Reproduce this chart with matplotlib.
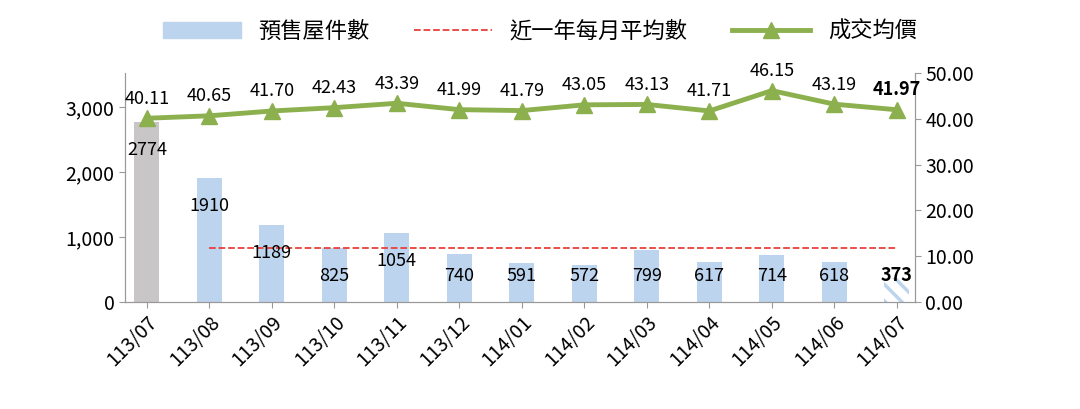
import matplotlib
matplotlib.use("Agg")
import matplotlib.pyplot as plt
import numpy as np

plt.rcParams['font.family'] = ['Noto Sans CJK TC', 'DejaVu Sans']
plt.rcParams['hatch.linewidth'] = 2.5

months = ["113/07","113/08","113/09","113/10","113/11","113/12","114/01","114/02","114/03","114/04","114/05","114/06","114/07"]
units = [2774,1910,1189,825,1054,740,591,572,799,617,714,618,373]
prices = [40.11,40.65,41.70,42.43,43.39,41.99,41.79,43.05,43.13,41.71,46.15,43.19,41.97]
avg_units = 834

fig = plt.figure(figsize=(10.8,4.09), dpi=100)
ax = fig.add_axes([0.1157,0.262,0.7315,0.5595])
ax2 = ax.twinx()
x = np.arange(len(months))
colors = ['#c8c6c6'] + ['#bdd4ee']*(len(months)-2) + ['white']
bars = ax.bar(x, units, width=0.4, color=colors, zorder=2)
bars[-1].set_hatch('\\\\')
bars[-1].set_edgecolor('#bdd4ee'); bars[-1].set_linewidth(0)
ax.plot(x[1:], [avg_units]*(len(x)-1), ls='--', color='#e8413a', lw=1.3, zorder=3)
for i,v in enumerate(units):
    ax.text(i, max(v-430, 400), str(v), ha='center', va='center', fontsize=13,
            fontweight='bold' if i==len(units)-1 else 'normal', zorder=5)
ax.set_ylim(0, 3523)
ax.set_xlim(-0.35, 12.29)
ax.set_yticks([0,1000,2000,3000])
ax.set_yticklabels(['0','1,000','2,000','3,000'])
ax.set_xticks(x)
ax.set_xticklabels(months, rotation=45, ha='right', rotation_mode='anchor')
ax2.plot(x, prices, color='#8db04e', lw=3.5, marker='^', ms=12, zorder=4)
for i,p in enumerate(prices):
    ax2.text(i, p+2.3, f"{p:.2f}", ha='center', va='bottom', fontsize=13,
             fontweight='bold' if i==len(prices)-1 else 'normal')
ax2.set_ylim(0,50)
ax2.set_yticks(np.arange(0,51,10))
ax2.set_yticklabels([f"{v:.2f}" for v in np.arange(0,51,10)])
for a in (ax, ax2):
    a.tick_params(labelsize=14, length=4, color='#999999')
    a.spines['top'].set_visible(False)
    for s in ('left','right','bottom'):
        a.spines[s].set_color('#999999')
from matplotlib.patches import Patch
from matplotlib.lines import Line2D
h = [Patch(color='#bdd4ee'), Line2D([],[],ls='--',color='#e8413a',lw=1.3),
     Line2D([],[],color='#8db04e',lw=3.5,marker='^',ms=12)]
fig.legend(h, ['預售屋件數','近一年每月平均數','成交均價'], loc='upper center',
           bbox_to_anchor=(0.5,1.0), ncol=3, frameon=False, fontsize=16,
           handlelength=3.5, columnspacing=2)
fig.savefig('out.png', dpi=100)
